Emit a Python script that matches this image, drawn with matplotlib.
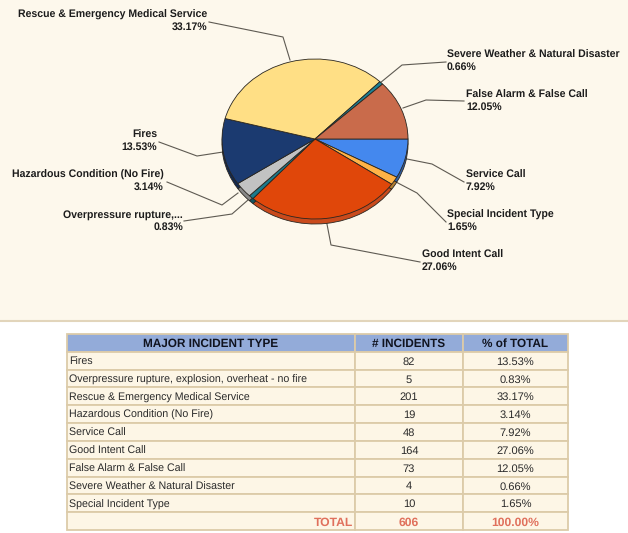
import matplotlib

matplotlib.use("Agg")

import matplotlib.pyplot as plt

plt.rcParams["font.family"] = ["Liberation Sans", "DejaVu Sans"]
plt.rcParams["text.hinting"] = "no_hinting"

W, H = 628, 533
BG = "#fdf8ec"
RULE = "#e2d5bb"
LINE = "#5e5a52"

# table order
categories = [
    "Fires",
    "Overpressure rupture, explosion, overheat - no fire",
    "Rescue & Emergency Medical Service",
    "Hazardous Condition (No Fire)",
    "Service Call",
    "Good Intent Call",
    "False Alarm & False Call",
    "Severe Weather & Natural Disaster",
    "Special Incident Type",
]
incidents = [82, 5, 201, 19, 48, 164, 73, 4, 10]
percents = [13.53, 0.83, 33.17, 3.14, 7.92, 27.06, 12.05, 0.66, 1.65]
total_incidents = 606
total_percent = 100.00

# clockwise order around the pie, starting at 3 o'clock
pie_order = [4, 8, 5, 1, 3, 0, 2, 7, 6]
colors = {
    0: "#1b3a70", 1: "#1c7a8c", 2: "#ffdf85", 3: "#c2c2c2", 4: "#4488ee",
    5: "#e0470a", 6: "#c96b4b", 7: "#1c8296", 8: "#ffb347",
}
side_colors = {
    0: "#12284e", 1: "#125562", 2: "#b39c5d", 3: "#888888", 4: "#2f5fa6",
    5: "#c94a1c", 6: "#8d4b35", 7: "#135b69", 8: "#b37d32",
}

# (text, x, y, ha, leader polyline) in image pixels
labels = [
    ("Rescue & Emergency Medical Service\n33.17%", 207, 21, "right", [(209, 22), (283, 37), (290, 60)]),
    ("Severe Weather & Natural Disaster\n0.66%", 447, 61, "left", [(446, 62), (402, 65), (380, 83)]),
    ("False Alarm & False Call\n12.05%", 466, 101, "left", [(464, 101), (426, 100), (403, 108)]),
    ("Service Call\n7.92%", 466, 181, "left", [(464, 182), (432, 164), (407, 159)]),
    ("Special Incident Type\n1.65%", 447, 221, "left", [(446, 222), (417, 193), (396, 182)]),
    ("Good Intent Call\n27.06%", 422, 261, "left", [(420, 262), (331, 245), (326, 219)]),
    ("Fires\n13.53%", 157, 141, "right", [(159, 142), (197, 156), (223, 152)]),
    ("Hazardous Condition (No Fire)\n3.14%", 164, 181, "right", [(167, 182), (222, 205), (238, 193)]),
    ("Overpressure rupture,...\n0.83%", 183, 221, "right", [(184, 221), (232, 214), (248, 200)]),
]


def px_axes(fig, x0, y0, x1, y1):
    """Axes from image pixel box (y measured from the top)."""
    return fig.add_axes([x0 / W, 1 - y1 / H, (x1 - x0) / W, (y1 - y0) / H])


def draw_pie(fig, cx, cy, rx, ry, palette):
    ax = px_axes(fig, cx - rx, cy - ry, cx + rx, cy + ry)
    ax.pie(
        [percents[i] for i in pie_order],
        colors=[palette[i] for i in pie_order],
        startangle=0,
        counterclock=False,
        radius=1.0,
        wedgeprops={"edgecolor": "#2a2620", "linewidth": 0.6},
    )
    ax.set_aspect("auto")
    ax.set_xlim(-1, 1)
    ax.set_ylim(-1, 1)
    for p in ax.patches:
        p.set_clip_on(False)
    ax.patch.set_visible(False)
    return ax


fig = plt.figure(figsize=(W / 100, H / 100), dpi=100, facecolor="white")

# full-figure canvas in image pixels
bg = fig.add_axes([0, 0, 1, 1])
bg.set_xlim(0, W)
bg.set_ylim(H, 0)
bg.axis("off")
bg.axhspan(0, 320, color=BG, lw=0)
bg.axhline(321, color=RULE, lw=1.5)

for text, x, y, ha, pts in labels:
    bg.plot([p[0] for p in pts], [p[1] for p in pts], color=LINE, lw=0.8)
    bg.text(x, y, text, ha=ha, va="center", fontsize=7.6, fontweight="bold",
            color="#1c1c1c", linespacing=1.3)

# depth: same slices shifted down, then the top face
draw_pie(fig, 315, 144, 93, 80, side_colors)
draw_pie(fig, 315, 139, 93, 80, colors)

# table
tab_ax = px_axes(fig, 67, 334, 568, 530)
tab_ax.axis("off")
rows = [[c, str(n), f"{p:.2f}%"] for c, n, p in zip(categories, incidents, percents)]
rows.append(["TOTAL", str(total_incidents), f"{total_percent:.2f}%"])
table = tab_ax.table(
    cellText=rows,
    colLabels=["MAJOR INCIDENT TYPE", "# INCIDENTS", "% of TOTAL"],
    colWidths=[288 / 501, 108 / 501, 105 / 501],
    bbox=[0, 0, 1, 1],
    cellLoc="center",
)
table.auto_set_font_size(False)
table.set_fontsize(8.0)
for (r, c), cell in table.get_celld().items():
    cell.set_edgecolor("#dccba9")
    cell.set_linewidth(1.3)
    cell.set_facecolor("#fdf6e6")
    txt = cell.get_text()
    txt.set_color("#2a2a2a")
    txt.set_va("center_baseline")
    if r == 0:
        cell.set_facecolor("#93abd9")
        txt.set_fontweight("bold")
        txt.set_fontsize(8.45)
        txt.set_color("#10131f")
    elif r == len(rows):
        txt.set_fontweight("bold")
        txt.set_color("#e0705c")
        txt.set_fontsize(8.7)
        if c == 0:
            txt.set_ha("right")
            cell.PAD = 0.006
    elif c == 0:
        txt.set_ha("left")
        txt.set_fontsize(7.65)
        cell.PAD = 0.006

fig.savefig("out.png", dpi=100, facecolor=fig.get_facecolor())
